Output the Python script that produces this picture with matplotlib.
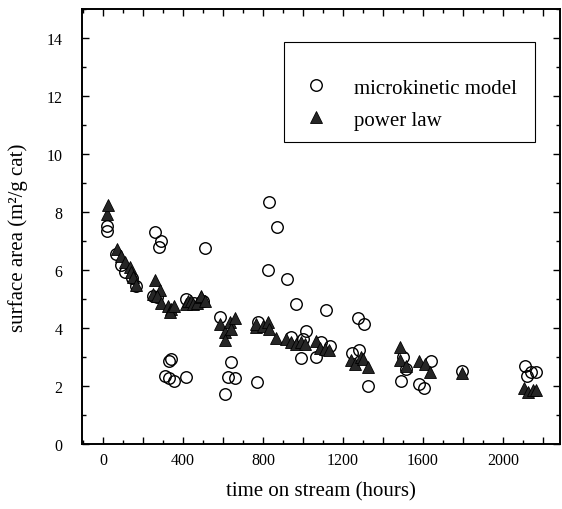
"""
Surface area vs. time on stream: microkinetic model vs. power law fit
"""
import matplotlib
matplotlib.use('Agg')
import matplotlib.pyplot as plt
from matplotlib.ticker import MultipleLocator, FuncFormatter

# microkinetic model predictions (hours, m2/g cat)
micro_hours = [22, 22, 67, 88, 108, 145, 167, 250, 270, 262, 288, 278, 512,
               417, 453, 500, 342, 329, 308, 330, 353, 417, 583, 610, 625,
               638, 658, 772, 775, 825, 828, 872, 922, 967, 942, 1000, 1013,
               988, 1065, 1092, 1113, 1133, 1247, 1280, 1275, 1305, 1325,
               1490, 1500, 1515, 1582, 1605, 1642, 1797, 2108, 2118, 2140, 2165]
micro_area = [7.53, 7.36, 6.55, 6.17, 5.94, 5.71, 5.46, 5.11, 5.06, 7.30, 7.01,
              6.80, 6.76, 5.00, 4.87, 4.94, 2.93, 2.87, 2.36, 2.26, 2.18, 2.30,
              4.37, 1.74, 2.30, 2.84, 2.26, 2.13, 4.22, 6.01, 8.36, 7.47, 5.69,
              4.82, 3.68, 3.62, 3.91, 2.98, 2.99, 3.52, 4.63, 3.39, 3.14, 3.24,
              4.33, 4.15, 2.00, 2.16, 2.99, 2.60, 2.08, 1.93, 2.85, 2.53, 2.70,
              2.36, 2.49, 2.47]

# power law predictions (hours, m2/g cat)
power_hours = [22, 25, 70, 92, 112, 133, 142, 150, 163, 258, 283, 250, 270,
               292, 325, 342, 333, 353, 417, 425, 442, 450, 470, 488, 492, 508,
               583, 608, 610, 633, 638, 658, 767, 767, 800, 825, 830, 867, 917,
               942, 967, 992, 1008, 1063, 1085, 1108, 1130, 1242, 1260, 1290,
               1300, 1325, 1483, 1487, 1513, 1580, 1608, 1633, 1797, 2103,
               2125, 2150, 2167]
power_area = [7.93, 8.25, 6.72, 6.49, 6.29, 6.09, 5.92, 5.75, 5.49, 5.64, 5.30,
              5.17, 5.11, 4.85, 4.77, 4.66, 4.56, 4.75, 4.83, 4.94, 4.94, 4.83,
              4.85, 5.06, 5.11, 4.92, 4.14, 3.85, 3.58, 4.22, 3.95, 4.33, 4.02,
              4.14, 4.06, 4.22, 3.95, 3.66, 3.63, 3.50, 3.45, 3.53, 3.45, 3.56,
              3.30, 3.28, 3.24, 2.90, 2.76, 2.99, 2.93, 2.64, 3.33, 2.90, 2.70,
              2.87, 2.76, 2.47, 2.45, 1.92, 1.80, 1.87, 1.87]

plt.rcParams['font.family'] = ['Liberation Serif', 'DejaVu Serif']

fig = plt.figure(figsize=(5.62, 5.10), dpi=100)
ax = fig.add_axes([0.1459, 0.1275, 0.8505, 0.8529])

ax.plot(micro_hours, micro_area, linestyle='none', marker='o', markersize=8.3,
        markerfacecolor='none', markeredgecolor='black', markeredgewidth=1.0,
        label='microkinetic model')
ax.plot(power_hours, power_area, linestyle='none', marker='^', markersize=9,
        markerfacecolor='#262626', markeredgecolor='black', markeredgewidth=0.6,
        label='power law')

ax.set_xlim(-105, 2285)
ax.set_ylim(0, 15)

ax.xaxis.set_major_locator(MultipleLocator(200))
ax.xaxis.set_minor_locator(MultipleLocator(100))
ax.xaxis.set_major_formatter(FuncFormatter(lambda v, p: f"{v:.0f}" if v % 400 == 0 else ""))
ax.yaxis.set_major_locator(MultipleLocator(2))
ax.yaxis.set_minor_locator(MultipleLocator(1))

ax.tick_params(which='both', direction='in', top=True, right=True,
               width=1.0, labelsize=11.5)
ax.tick_params(which='major', length=5)
ax.tick_params(which='minor', length=3)
ax.tick_params(axis='x', pad=6)
ax.tick_params(axis='y', pad=14)
for sp in ax.spines.values():
    sp.set_linewidth(1.4)

ax.set_xlabel('time on stream (hours)', fontsize=15, labelpad=9)
ax.set_ylabel('surface area (m²/g cat)', fontsize=15)
ax.yaxis.set_label_coords(-0.112, 0.477)

# legend entries without frame, box drawn separately
leg = ax.legend(loc='upper left', bbox_to_anchor=(0.467, 0.841), frameon=False,
                fontsize=15, numpoints=1, handlelength=1.0, handletextpad=1.35,
                borderpad=0, borderaxespad=0, labelspacing=0.59)
box = plt.Rectangle((0.4226, 0.694), 0.5254, 0.230, transform=ax.transAxes,
                    fill=False, edgecolor='black', linewidth=0.8)
ax.add_patch(box)

plt.savefig('out.png', dpi=100)
print("saved out.png")
